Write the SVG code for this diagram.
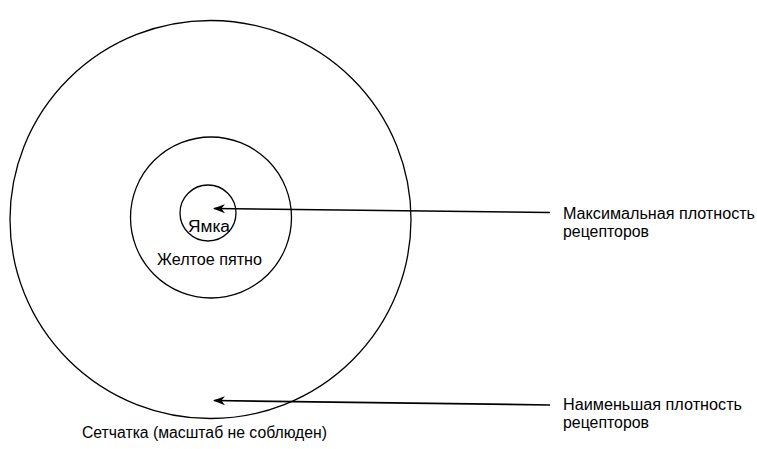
<svg xmlns="http://www.w3.org/2000/svg" width="757" height="449" viewBox="0 0 757 449">
<defs>
<style>
.ring{fill:none;stroke:#000;stroke-width:1.3}
.conn{fill:none;stroke:#000;stroke-width:1.7}
text{font-family:"Liberation Sans",Arial,sans-serif;font-size:16px;fill:#000}
</style>
<marker id="ah" markerWidth="14" markerHeight="10" refX="11" refY="5" orient="auto" markerUnits="userSpaceOnUse">
<path d="M12,5 L0,0.5 L3.5,5 L0,9.5 Z" fill="#000"/>
</marker>
</defs>
<rect width="757" height="449" fill="#fff"/>
<g id="retina">
<ellipse class="ring" cx="210.5" cy="219.5" rx="200.5" ry="199"/>
<text x="82" y="438" textLength="245" lengthAdjust="spacingAndGlyphs">Сетчатка (масштаб не соблюден)</text>
</g>
<g id="macula">
<circle class="ring" cx="211" cy="217.5" r="80.5"/>
<text x="157" y="265" textLength="105" lengthAdjust="spacingAndGlyphs">Желтое пятно</text>
</g>
<g id="fovea">
<circle class="ring" cx="208" cy="213" r="28"/>
<text x="188" y="232" textLength="42" lengthAdjust="spacingAndGlyphs">Ямка</text>
</g>
<g id="label-max">
<text x="563" y="219" textLength="192" lengthAdjust="spacingAndGlyphs">Максимальная плотность</text>
<text x="563" y="237" textLength="86" lengthAdjust="spacingAndGlyphs">рецепторов</text>
</g>
<g id="label-min">
<text x="563" y="410" textLength="179" lengthAdjust="spacingAndGlyphs">Наименьшая плотность</text>
<text x="563" y="428" textLength="86" lengthAdjust="spacingAndGlyphs">рецепторов</text>
</g>
<g id="connectors">
<path class="conn" d="M550,212.5 L214,208.5" marker-end="url(#ah)"/>
<path class="conn" d="M550,405 L214,400.5" marker-end="url(#ah)"/>
</g>
</svg>
